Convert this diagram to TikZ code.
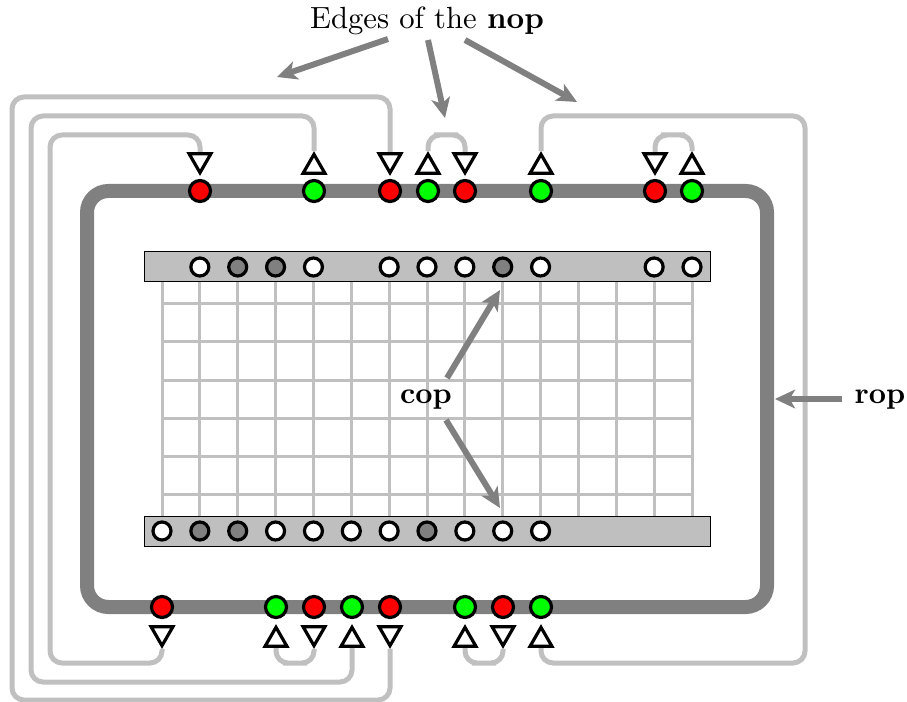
\documentclass[tikz,border=0pt]{standalone}
\usetikzlibrary{arrows.meta,shapes.geometric,backgrounds}
\definecolor{ropc}{HTML}{808080}
\definecolor{wirec}{HTML}{C0C0C0}
\definecolor{barc}{HTML}{BFBFBF}
\begin{document}
\begin{tikzpicture}[x=0.75pt,y=-0.75pt,
  wire/.style={draw=wirec, line width=3.75pt, rounded corners=9pt},
  ring/.style={draw=ropc, line width=10.5pt, rounded corners=16pt},
  dot/.style={circle, draw=black, line width=2.4pt, minimum size=15.75pt, inner sep=0pt},
  reddot/.style={dot, fill=red},
  grndot/.style={dot, fill=green},
  sdot/.style={circle, draw=black, line width=2.4pt, minimum size=13.5pt, inner sep=0pt},
  wdot/.style={sdot, fill=white},
  gdot/.style={sdot, fill=ropc},
  tri/.style={regular polygon, regular polygon sides=3, draw=black, fill=white, line width=2.4pt, minimum size=19pt, inner sep=0pt},
  utri/.style={tri},
  dtri/.style={tri, shape border rotate=180},
  bar/.style={fill=barc, draw=black, line width=0.75pt},
  gridl/.style={draw=wirec, line width=2.25pt},
  arr/.style={draw=ropc, line width=4.5pt, -{Stealth[length=15pt,width=14pt,inset=4pt]}},
  lbl/.style={inner sep=0pt, anchor=base}]
\useasboundingbox (0,0) rectangle (907,702);

% triangles (top)
\node[dtri] (T1) at (200,160) {};
\node[utri] (T2) at (314,167) {};
\node[dtri] (T3) at (390,160) {};
\node[utri] (T4) at (428,167) {};
\node[dtri] (T5) at (465,160) {};
\node[utri] (T6) at (541,167) {};
\node[dtri] (T7) at (655,160) {};
\node[utri] (T8) at (692,167) {};
% triangles (bottom)
\node[dtri] (B1) at (162,633) {};
\node[utri] (B2) at (276,640) {};
\node[dtri] (B3) at (314,633) {};
\node[utri] (B4) at (352,640) {};
\node[dtri] (B5) at (390,633) {};
\node[utri] (B6) at (465,640) {};
\node[dtri] (B7) at (503,633) {};
\node[utri] (B8) at (541,640) {};

% wires (edges of the nop), behind everything
\begin{scope}[on background layer]
\draw[wire] (T1) |- (50,135) -- (50,663) -| (B1);
\draw[wire] (T2) |- (31,116) -- (31,682) -| (B4);
\draw[wire] (T3) |- (12,97) -- (12,700) -| (B5);
\draw[wire] (T4) |- (446,135) -| (T5);
\draw[wire] (T7) |- (673,135) -| (T8);
\draw[wire] (T6) |- (805,116) -- (805,663) -| (B8);
\draw[wire] (B2) |- (295,663) -| (B3);
\draw[wire] (B6) |- (484,663) -| (B7);
\end{scope}

% ring (rop)
\draw[ring] (87,191) rectangle (767,607);

% ring dots
\foreach \n/\x/\s in {a1/200/reddot,a2/314/grndot,a3/390/reddot,a4/428/grndot,a5/465/reddot,a6/541/grndot,a7/655/reddot,a8/692/grndot}
  \node[\s] (\n) at (\x,191) {};
\foreach \n/\x/\s in {b1/162/reddot,b2/276/grndot,b3/314/reddot,b4/352/grndot,b5/390/reddot,b6/465/grndot,b7/503/reddot,b8/541/grndot}
  \node[\s] (\n) at (\x,607) {};

% grid (cop)
\foreach \i in {0,...,14}
  \draw[gridl] ({162+37.857*\i},282) -- ({162+37.857*\i},516);
\foreach \j in {0,...,5}
  \draw[gridl] (162,{304+38*\j}) -- (692,{304+38*\j});

% bars
\draw[bar] (144,252) rectangle (710,282);
\draw[bar] (144,516) rectangle (710,546);

\foreach \i/\s in {1/wdot,2/gdot,3/gdot,4/wdot,6/wdot,7/wdot,8/wdot,9/gdot,10/wdot,13/wdot,14/wdot}
  \node[\s] (u\i) at ({162+37.857*\i},267) {};
\foreach \i/\s in {0/wdot,1/gdot,2/gdot,3/wdot,4/wdot,5/wdot,6/wdot,7/gdot,8/wdot,9/wdot,10/wdot}
  \node[\s] (d\i) at ({162+37.857*\i},531) {};

% labels
\node[lbl] (edges) at (427,29) {\scalebox{2.3}{Edges of the \textbf{nop}}};
\node[lbl] (cop) at (426,403) {\scalebox{2.25}{\textbf{cop}}};
\node[lbl] (rop) at (880,403) {\scalebox{2.25}{\textbf{rop}}};

% arrows
\coordinate (e1s) at (388,39);
\coordinate (e1t) at (277,77);
\coordinate (e2s) at (428,40);
\coordinate (e2t) at (445,118);
\coordinate (e3s) at (465,40);
\coordinate (e3t) at (577,102);
\draw[arr] (e1s) -- (e1t);
\draw[arr] (e2s) -- (e2t);
\draw[arr] (e3s) -- (e3t);

\coordinate (c1s) at (447,378);
\coordinate (c1t) at (500,290);
\coordinate (c2s) at (446,420);
\coordinate (c2t) at (500,508);
\draw[arr] (c1s) -- (c1t);
\draw[arr] (c2s) -- (c2t);

\coordinate (r1s) at (842,399);
\coordinate (r1t) at (775,399);
\draw[arr] (r1s) -- (r1t);
\end{tikzpicture}
\end{document}
